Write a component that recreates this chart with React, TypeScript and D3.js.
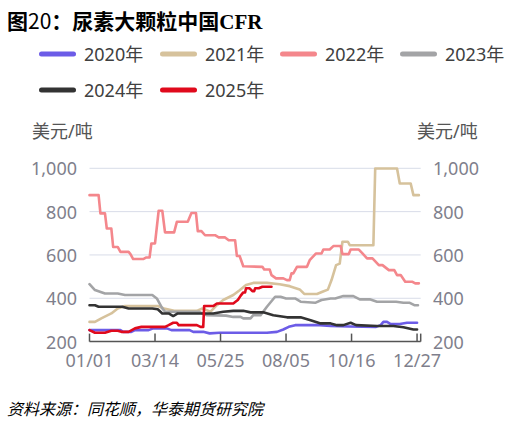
import React from "react";
import * as d3 from "d3";

const title = "尿素大颗粒中国CFR";
const unitLabel = "美元/吨";
const source = "资料来源：同花顺，华泰期货研究院";
const xTickDays = [0, 72, 144, 216, 288, 360];
const xTickLabels = ["01/01", "03/14", "05/25", "08/05", "10/16", "12/27"];
const yTicks = [200, 400, 600, 800, 1000];

// [day of year, USD/t]
const s2020: [number, number][] = [[0,253],[34,253],[37,245],[46,245],[50,253],[65,253],[70,261],[85,261],[90,253],[110,253],[114,245],[125,245],[132,238],[143,241],[195,241],[206,245],[213,256],[219,268],[226,276],[253,276],[265,272],[286,270],[315,268],[320,276],[323,291],[327,291],[331,281],[341,281],[349,287],[360,287]];
const s2021: [number, number][] = [[0,291],[6,291],[13,307],[24,330],[31,353],[39,364],[75,364],[82,353],[93,342],[118,342],[124,353],[133,338],[140,368],[147,392],[158,415],[165,437],[172,461],[180,471],[195,471],[209,465],[220,456],[231,441],[236,420],[250,420],[256,430],[262,440],[266,484],[271,553],[275,560],[278,661],[284,661],[286,645],[312,645],[314,999],[338,999],[341,930],[353,930],[356,876],[362,876]];
const s2022: [number, number][] = [[0,876],[10,876],[12,792],[17,792],[19,722],[24,722],[26,637],[31,637],[34,614],[43,614],[45,604],[48,581],[59,581],[62,588],[66,588],[68,653],[72,653],[76,804],[80,804],[83,704],[93,704],[96,753],[108,753],[112,794],[117,794],[119,710],[123,710],[127,691],[138,691],[142,681],[149,681],[153,668],[160,668],[162,595],[165,595],[169,548],[190,545],[192,533],[198,533],[200,507],[205,492],[213,492],[217,484],[220,484],[222,515],[224,515],[228,545],[239,545],[242,576],[249,607],[255,607],[257,625],[264,625],[268,641],[276,641],[278,604],[285,604],[287,625],[296,625],[300,607],[305,584],[311,584],[318,553],[322,553],[329,530],[335,530],[338,507],[342,507],[347,476],[355,476],[358,469],[362,469]];
const s2023: [number, number][] = [[0,465],[6,438],[17,422],[31,422],[39,415],[69,415],[74,399],[80,353],[83,338],[120,338],[124,330],[129,322],[150,320],[158,314],[166,314],[169,307],[177,307],[180,322],[188,322],[195,361],[204,407],[210,407],[216,399],[226,399],[232,384],[248,379],[255,392],[265,399],[270,399],[279,410],[290,410],[297,395],[308,395],[316,384],[337,384],[345,379],[352,379],[357,368],[361,368]];
const s2024: [number, number][] = [[0,368],[6,368],[10,361],[36,361],[43,353],[69,353],[75,349],[80,330],[87,330],[92,318],[97,330],[136,330],[147,338],[158,342],[169,342],[177,335],[191,335],[202,322],[217,312],[232,312],[243,299],[254,284],[265,284],[272,276],[279,276],[287,287],[293,276],[316,272],[334,272],[345,266],[356,256],[360,256]];
const s2025: [number, number][] = [[0,253],[6,241],[17,241],[24,250],[31,250],[35,245],[43,245],[50,261],[57,268],[83,268],[87,276],[92,287],[96,287],[98,276],[118,276],[122,268],[125,268],[126,364],[136,364],[140,376],[158,376],[163,392],[166,411],[169,427],[171,427],[172,446],[176,446],[179,433],[181,433],[182,446],[186,446],[190,453],[200,453]];

const seriesNames = ["2020年", "2021年", "2022年", "2023年", "2024年", "2025年"];
const seriesData = [s2020, s2021, s2022, s2023, s2024, s2025];
const seriesColors = ["#6c5ce7", "#d6c29c", "#f4878c", "#a3a4a6", "#333333", "#e00a1c"];

const FONT = "'Noto Sans', 'Noto Sans CJK SC', sans-serif";

export default function App() {
  const x = d3.scaleLinear().domain([0, 364]).range([89.5, 420.7]);
  const y = d3.scaleLinear().domain([200, 1000]).range([341.6, 168.3]);
  const line = d3
    .line<[number, number]>()
    .x((d) => x(d[0]))
    .y((d) => y(d[1]));

  const legendPos = [
    [39, 54], [160, 54], [280, 54], [400, 54],
    [39, 90], [160, 90],
  ];

  return (
    <svg
      width={519}
      height={426}
      style={{ position: "absolute", left: 0, top: 0, background: "#fff" }}
      fontFamily={FONT}
    >
      <text x={7} y={29} fontSize={21} fill="#000" fontFamily="'Noto Sans CJK SC', sans-serif">
        <tspan fontWeight="bold">图</tspan>
        <tspan fontWeight="normal">20</tspan>
        <tspan fontWeight="bold">：尿素大颗粒中国</tspan>
        <tspan fontWeight="bold" fontFamily="'Liberation Serif', serif">CFR</tspan>
      </text>

      {seriesNames.map((n, i) => (
        <g key={n}>
          <rect
            x={legendPos[i][0]}
            y={legendPos[i][1] - 2.5}
            width={37}
            height={5}
            rx={2.5}
            fill={seriesColors[i]}
          />
          <text
            x={legendPos[i][0] + 45}
            y={legendPos[i][1]}
            dominantBaseline="central"
            fontSize={18}
            fill="#404040"
          >
            {n}
          </text>
        </g>
      ))}

      <text x={32} y={131} dominantBaseline="central" fontSize={18} fill="#555">
        {unitLabel}
      </text>
      <text x={417} y={131} dominantBaseline="central" fontSize={18} fill="#555">
        {unitLabel}
      </text>

      {yTicks.slice(1).map((t) => (
        <line key={t} x1={89.5} x2={420.7} y1={y(t)} y2={y(t)} stroke="#d8dce8" strokeWidth={1} />
      ))}
      {yTicks.map((t) => (
        <g key={"l" + t}>
          <text x={77} y={y(t)} textAnchor="end" dominantBaseline="central" fontSize={18} fill="#7f7f8c">
            {d3.format(",")(t)}
          </text>
          <text x={433} y={y(t)} textAnchor="start" dominantBaseline="central" fontSize={18} fill="#7f7f8c">
            {d3.format(",")(t)}
          </text>
        </g>
      ))}

      {seriesData.map((s, i) => (
        <path
          key={i}
          d={line(s) || ""}
          fill="none"
          stroke={seriesColors[i]}
          strokeWidth={2.6}
          strokeLinejoin="round"
          strokeLinecap="round"
        />
      ))}

      <line x1={89.5} x2={420.7} y1={y(200)} y2={y(200)} stroke="#555" strokeWidth={1.5} />
      {[...xTickDays, 364].map((d) => (
        <line key={"t" + d} x1={x(d)} x2={x(d)} y1={y(200)} y2={y(200) - 8} stroke="#555" strokeWidth={1.5} />
      ))}
      {xTickDays.map((d, i) => (
        <text key={"x" + d} x={x(d)} y={360} textAnchor="middle" dominantBaseline="central" fontSize={18} fill="#7f7f8c">
          {xTickLabels[i]}
        </text>
      ))}

      <text x={7} y={408} dominantBaseline="central" fontSize={16} fontStyle="italic" fill="#000" fontFamily="'Noto Sans CJK SC', sans-serif">
        {source}
      </text>
    </svg>
  );
}
